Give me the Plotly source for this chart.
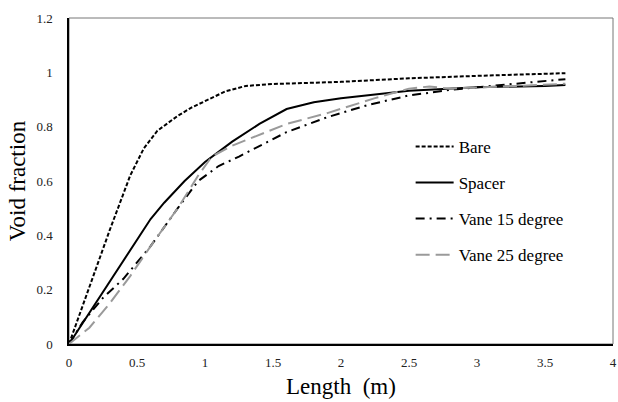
import plotly.graph_objects as go

bare_x = [0, 0.1, 0.3, 0.45, 0.55, 0.65, 0.8, 0.9, 1.0, 1.15, 1.3, 1.5, 2.0, 2.5, 3.0, 3.5, 3.65]
bare_y = [0, 0.14, 0.42, 0.62, 0.72, 0.785, 0.84, 0.87, 0.895, 0.93, 0.95, 0.957, 0.965, 0.978, 0.987, 0.995, 0.997]

spacer_x = [0, 0.2, 0.4, 0.6, 0.7, 0.85, 1.0, 1.2, 1.4, 1.6, 1.8, 2.0, 2.5, 3.0, 3.5, 3.65]
spacer_y = [0, 0.155, 0.31, 0.46, 0.52, 0.6, 0.67, 0.745, 0.81, 0.865, 0.89, 0.905, 0.932, 0.945, 0.95, 0.953]

vane15_x = [0, 0.1, 0.25, 0.4, 0.6, 0.8, 0.95, 1.1, 1.25, 1.6, 1.9, 2.2, 2.5, 2.8, 3.0, 3.3, 3.65]
vane15_y = [0, 0.08, 0.17, 0.24, 0.36, 0.5, 0.6, 0.655, 0.69, 0.78, 0.835, 0.88, 0.915, 0.935, 0.945, 0.958, 0.975]

vane25_x = [0, 0.15, 0.3, 0.45, 0.6, 0.8, 0.95, 1.05, 1.2, 1.6, 1.9, 2.25, 2.5, 2.65, 2.8, 3.0, 3.3, 3.65]
vane25_y = [0, 0.06, 0.15, 0.25, 0.36, 0.5, 0.62, 0.69, 0.73, 0.81, 0.85, 0.905, 0.94, 0.948, 0.94, 0.945, 0.95, 0.958]

x_ticks = [0, 0.5, 1, 1.5, 2, 2.5, 3, 3.5, 4]
x_labels = ["0", "0.5", "1", "1.5", "2", "2.5", "3", "3.5", "4"]
y_ticks = [0, 0.2, 0.4, 0.6, 0.8, 1.0, 1.2]
y_labels = ["0", "0.2", "0.4", "0.6", "0.8", "1", "1.2"]

FONT = "Liberation Serif"

fig = go.Figure()
fig.add_trace(go.Scatter(x=bare_x, y=bare_y, mode="lines", name="Bare", legendgroup="a",
                         line=dict(color="black", width=2, dash="4px,2px")))
fig.add_trace(go.Scatter(x=spacer_x, y=spacer_y, mode="lines", name="Spacer", legendgroup="b",
                         line=dict(color="black", width=2)))
fig.add_trace(go.Scatter(x=vane15_x, y=vane15_y, mode="lines", name="Vane 15 degree", legendgroup="c",
                         line=dict(color="black", width=2, dash="9px,5px,2px,5px")))
fig.add_trace(go.Scatter(x=vane25_x, y=vane25_y, mode="lines", name="Vane 25 degree", legendgroup="d",
                         line=dict(color="#9a9a9a", width=2, dash="14px,6px")))

fig.update_layout(
    width=618, height=402,
    margin=dict(l=69, r=1, t=18, b=58),
    paper_bgcolor="white", plot_bgcolor="white",
    font=dict(family=FONT, color="black"),
    showlegend=True,
    legend=dict(x=0.628, y=0.66, xanchor="left", yanchor="top",
                bgcolor="rgba(0,0,0,0)", font=dict(family=FONT, size=17, color="black"),
                tracegroupgap=11, itemwidth=38),
    xaxis=dict(range=[0, 4], tickvals=x_ticks, ticktext=x_labels, showgrid=False, zeroline=False,
               showline=True, linecolor="black", linewidth=1.5, ticks="",
               tickfont=dict(family=FONT, size=13, color="#222"), ticklabelstandoff=6,
               ticklabeloverflow="allow",
               title=dict(text="Length\u00a0\u00a0(m)", font=dict(family=FONT, size=23, color="black"), standoff=9)),
    yaxis=dict(range=[0, 1.2], tickvals=y_ticks, ticktext=y_labels, showgrid=False, zeroline=False,
               showline=True, linecolor="black", linewidth=1.5, ticks="",
               tickfont=dict(family=FONT, size=13, color="#222"), ticklabelstandoff=12,
               title=dict(text="Void fraction", font=dict(family=FONT, size=23, color="black"), standoff=4)),
    shapes=[dict(type="rect", xref="paper", yref="paper", x0=0, y0=0, x1=1, y1=1,
                 line=dict(color="#777", width=1), layer="below")],
)

fig.write_html("out.html")
